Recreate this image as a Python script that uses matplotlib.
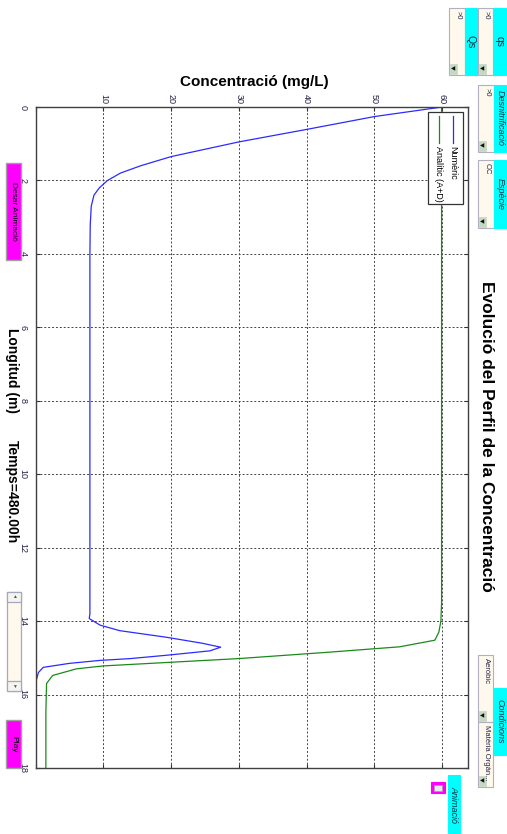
import numpy as np
import matplotlib
matplotlib.use('Agg')
import matplotlib.pyplot as plt
from matplotlib.patches import Rectangle
from matplotlib.lines import Line2D

plt.rcParams['font.family'] = ['Liberation Sans', 'DejaVu Sans']

# ---- data ----
L_num = [0, 0.26, 0.61, 0.95, 1.35, 1.6, 1.8, 2.0, 2.2, 2.4, 2.7, 3.2, 4.0, 13.8, 13.93,
         14.11, 14.26, 14.44, 14.6, 14.71, 14.81, 14.93, 15.02, 15.07, 15.15, 15.26, 15.4, 15.6, 18]
C_num = [60, 50, 40, 30, 20, 15.5, 12.5, 10.6, 9.4, 8.6, 8.2, 8.05, 8.0, 8.0, 7.9,
         9.5, 12.4, 19.3, 24.5, 27.3, 25.7, 19.3, 14.0, 9.5, 5.0, 1.1, 0.4, 0.1, 0.05]

L_ana = [0, 13.5, 14.0, 14.3, 14.52, 14.7, 14.85, 15.02, 15.12, 15.22, 15.3, 15.48, 15.7, 16.5, 18]
C_ana = [59.9, 59.9, 59.8, 59.5, 58.9, 53.7, 43, 30, 20, 10, 6, 2.5, 1.6, 1.5, 1.5]

conc_ticks = [0, 10, 20, 30, 40, 50, 60]
len_ticks = [0, 2, 4, 6, 8, 10, 12, 14, 16, 18]

W, H = 507, 834
fig = plt.figure(figsize=(W/100, H/100), dpi=100)
fig.patch.set_facecolor('white')

def fx(x):
    return x / W

def fy(y):
    return 1 - y / H

ax = fig.add_axes([fx(35.7), fy(768), (468 - 35.7)/W, (768 - 107)/H])
ax.plot(C_num, L_num, color='#2b2bff', lw=0.9)
ax.plot(C_ana, L_ana, color='#1a8a1a', lw=0.9)
ax.set_xlim(0, 63.8)
ax.set_ylim(18, 0)
ax.set_xticks(conc_ticks)
ax.set_xticklabels([''] + [str(t) for t in conc_ticks[1:]])
ax.set_yticks(len_ticks)
ax.xaxis.tick_top()
ax.tick_params(axis='both', direction='in', length=3, width=0.8, labelsize=6.5,
               top=True, bottom=True, left=True, right=True, colors='#333333')
ax.tick_params(axis='x', pad=2, labeltop=True, labelbottom=False)
ax.tick_params(axis='y', pad=6)
for lab in ax.get_xticklabels():
    lab.set_rotation(-90)
    lab.set_ha('center')
    lab.set_va('bottom')
    lab.set_color('#222244')
for lab in ax.get_yticklabels():
    lab.set_rotation(-90)
    lab.set_ha('right')
    lab.set_va('center')
    lab.set_color('#222244')
ax.grid(True, linestyle=(0, (2, 2)), color='#444444', lw=0.7)
for s in ax.spines.values():
    s.set_color('#404040')
    s.set_linewidth(1.0)

# ---- legend (rotated, drawn by hand) ----
fig.add_artist(Rectangle((fx(428), fy(204)), 35/W, 92/H, transform=fig.transFigure,
                         facecolor='white', edgecolor='#333333', lw=0.9, zorder=5))
fig.add_artist(Line2D([fx(452.7), fx(452.7)], [fy(116), fy(143)], transform=fig.transFigure,
                      color='#2b2bff', lw=0.9, zorder=6))
fig.add_artist(Line2D([fx(439), fx(439)], [fy(116), fy(143)], transform=fig.transFigure,
                      color='#1a8a1a', lw=0.9, zorder=6))
fig.text(fx(452.7), fy(146), 'Numèric', rotation=-90, ha='center', va='top', fontsize=6.5, zorder=7)
fig.text(fx(439), fy(146), 'Analític (A+D)', rotation=-90, ha='center', va='top', fontsize=6.5, zorder=7)

# ---- labels ----
fig.text(fx(254), fy(82), 'Concentració (mg/L)', ha='center', va='center', fontsize=11, fontweight='bold')
fig.text(fx(12), fy(371), 'Longitud (m)', rotation=-90, ha='center', va='center', fontsize=10, fontweight='bold')
fig.text(fx(12), fy(492), 'Temps=480.00h', rotation=-90, ha='center', va='center', fontsize=10, fontweight='bold')
fig.text(fx(486), fy(436), 'Evolució del Perfil de la Concentració', rotation=-90, ha='center', va='center',
         fontsize=12.5, fontweight='bold')

# ---- GUI controls ----
def box(x0, y0, x1, y1, fc, ec='#b0b0c0', lw=0.8):
    fig.add_artist(Rectangle((fx(x0), fy(y1)), (x1 - x0)/W, (y1 - y0)/H, transform=fig.transFigure,
                             facecolor=fc, edgecolor=ec, lw=lw))

def popup(x0, y0, x1, y1, txt):
    box(x0, y0, x1, y1, '#fff8ec')
    box(x0 + 1, y1 - 11, x0 + 8, y1 - 1, '#c4d8c4', ec='#c4d8c4', lw=0.5)
    fig.text(fx(x0 + 4.5), fy(y1 - 6), '◀', ha='center', va='center', fontsize=4, color='#111111')
    fig.text(fx((x0 + x1)/2 + 1), fy(y0 + 3), txt, rotation=-90, ha='center', va='top',
             fontsize=5.5, color='#222244')

def label(x0, y0, x1, y1, txt, italic=True, size=6):
    box(x0, y0, x1, y1, '#00ffff', ec='#00ffff')
    fig.text(fx((x0 + x1)/2), fy((y0 + y1)/2), txt, rotation=-90, ha='center', va='center',
             fontsize=size, style='italic' if italic else 'normal', color='#003344')

popup(449, 8, 465, 75, '>0')
label(465, 8, 477, 75, 'Qs', italic=False, size=7.5)
popup(478, 8, 493, 75, '>0')
label(493, 8, 506, 75, 'qs', italic=False, size=7.5)
popup(478, 85, 494, 152, '>0')
label(494, 85, 506, 152, 'Desnitrificació', size=6.5)
popup(478, 160, 494, 228, 'OC')
label(494, 160, 506, 228, 'Espècie', size=6.5)
popup(478, 655, 493, 722, 'Aeròbic')
label(494, 688, 506, 755, 'Condicions', size=6.5)
popup(478, 722, 493, 787, 'Matèria Orgàn...')
label(448, 775, 460, 833, 'Animació', size=6.5)

# checkbox
box(431, 782, 445, 793, '#ff00ff', ec='#ff00ff')
box(434, 784.5, 442, 790.5, '#e8ece8', ec='#a0a0a0', lw=0.5)

# buttons on the left
box(6, 163, 21, 260, '#ff00ff', ec='#a0a0a0', lw=1.0)
fig.text(fx(13.5), fy(211.5), 'Desar Animació', rotation=-90, ha='center', va='center', fontsize=6)
box(6, 720, 21, 768, '#ff00ff', ec='#a0a0a0', lw=1.0)
fig.text(fx(13.5), fy(744), 'Play', rotation=-90, ha='center', va='center', fontsize=6)

# slider
box(7, 592, 21, 691, '#fff8ec', ec='#a8a8b8', lw=0.9)
box(7, 592, 21, 602, '#f4f4f0', ec='#a8a8b8', lw=0.9)
box(7, 681, 21, 691, '#f4f4f0', ec='#a8a8b8', lw=0.9)
fig.text(fx(14), fy(597), '▲', ha='center', va='center', fontsize=3.5, color='#555555')
fig.text(fx(14), fy(686), '▼', ha='center', va='center', fontsize=3.5, color='#555555')

fig.savefig('out.png', dpi=100)
